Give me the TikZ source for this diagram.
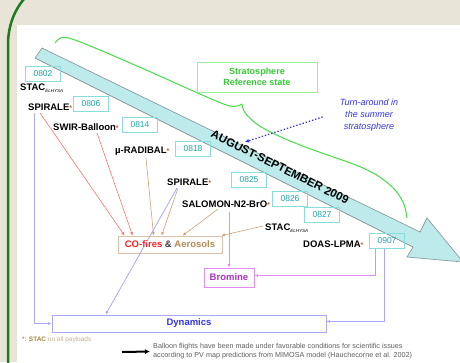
\documentclass[tikz,border=0pt]{standalone}
\usepackage{fontspec}
\setsansfont{Liberation Sans}
\usetikzlibrary{arrows.meta}

\definecolor{beige}{HTML}{E9E4D8}
\definecolor{framegreen}{HTML}{1E7B1E}
\definecolor{bandfill}{HTML}{BDEBEB}
\definecolor{bandline}{HTML}{8A9A9A}
\definecolor{bracegreen}{HTML}{44DD44}
\definecolor{stratline}{HTML}{99EE99}
\definecolor{strattext}{HTML}{33CC33}
\definecolor{codetext}{HTML}{1BA5A8}
\definecolor{codeline}{HTML}{88DDDD}
\definecolor{redline}{HTML}{FF7070}
\definecolor{redtext}{HTML}{FF2020}
\definecolor{tanline}{HTML}{C9A27A}
\definecolor{tantext}{HTML}{B58A55}
\definecolor{tanbox}{HTML}{DDC0A8}
\definecolor{purpline}{HTML}{E08CF0}
\definecolor{purptext}{HTML}{B030C8}
\definecolor{blueline}{HTML}{A8A8FF}
\definecolor{bluetext}{HTML}{3333EE}
\definecolor{asterisk}{HTML}{C05A30}
\definecolor{notetan}{HTML}{A88A40}
\definecolor{notelight}{HTML}{C8B090}
\definecolor{legendgray}{HTML}{606060}

\newcommand{\pstar}{\textcolor{asterisk}{\fontsize{7}{7}\selectfont*}}
\newcommand{\elhysa}{\raisebox{-2.5pt}{\fontsize{4.5}{5}\selectfont\mdseries\itshape ELHYSA}}

\begin{document}
\begin{tikzpicture}[x=1pt,y=-1pt,font=\sffamily,
	payload/.style={inner sep=0pt,anchor=base west,font=\sffamily\bfseries\fontsize{9.5}{10}\selectfont},
	flight/.style={draw=codeline,text=codetext,line width=0.8pt,minimum width=35pt,minimum height=15pt,inner sep=0pt,font=\sffamily\fontsize{8.5}{9}\selectfont},
	topic/.style={line width=0.8pt,inner sep=0pt,font=\sffamily\bfseries\fontsize{9.5}{10}\selectfont},
	tip/.style={-{Latex[length=3.5pt,width=3pt]}},
	redlink/.style={tip,draw=redline,line width=0.6pt},
	tanlink/.style={tip,draw=tanline,line width=0.6pt},
	purplink/.style={tip,draw=purpline,line width=0.8pt},
	bluelink/.style={tip,draw=blueline,line width=0.8pt}]
		\useasboundingbox (0,0) rectangle (460,362);
		\clip (0,0) rectangle (460,362);
		%%% background
		\fill[beige] (0,0) rectangle (460,362);
		\fill[white] (17,25) rectangle (460,362);
		\draw[framegreen,line width=2.5pt] (24,-1) .. controls (13,12) and (8,28) .. (8,45) -- (8,363);
		%%% time arrow
		\draw[bandline,fill=bandfill,line width=0.7pt] (42,48) -- (420,232) -- (427,218) -- (463,262) -- (407,257) -- (413,247) -- (35,58) -- cycle;
		\node[rotate=-26.5,font=\sffamily\bfseries\fontsize{11.5}{12}\selectfont] (period) at (280,167) {AUGUST-SEPTEMBER 2009};
		%%% stratosphere brace
		\draw[bracegreen,line width=1pt] plot[smooth,tension=0.6] coordinates {(55,43) (62,37.5) (75,40) (107,53) (153,73) (200,94) (230,106) (242,104)};
		\draw[bracegreen,line width=1pt] plot[smooth,tension=0.6] coordinates {(242,104) (246,114) (263,128) (300,145) (363,168) (390,185) (403,202) (407,218)};
		\node[draw=stratline,text=strattext,line width=0.8pt,minimum width=120pt,minimum height=30pt,align=center,font=\sffamily\bfseries\fontsize{9}{11}\selectfont] (strat) at (257,77) {Stratosphere\\Reference state};
		\node[text=bluetext,inner sep=0pt,align=center,font=\sffamily\itshape\fontsize{9}{12}\selectfont] (turn) at (369,115) {Turn-around in\\the summer\\stratosphere};
		\coordinate (turnpt) at (245,142);
		\draw[bluetext,line width=1.3pt,dotted,-{Latex[length=4pt,width=4pt]}] ([xshift=-17pt,yshift=-2pt]turn.west) -- (turnpt);
		%%% payloads
		\node[payload] (stacA) at (20,90) {STAC\elhysa};
		\node[payload] (spiraleA) at (28,110) {SPIRALE\pstar};
		\node[payload] (swir) at (53,130) {SWIR-Balloon\pstar};
		\node[payload] (radibal) at (115,153) {µ-RADIBAL\pstar};
		\node[payload] (spiraleB) at (167,185) {SPIRALE\pstar};
		\node[payload] (salomon) at (182,207) {SALOMON-N2-BrO\pstar};
		\node[payload] (stacB) at (265,230) {STAC\elhysa};
		\node[payload] (doas) at (303,247) {DOAS-LPMA\pstar};
		%%% flight numbers
		\node[flight] (f0802) at (43,74) {0802};
		\node[flight] (f0806) at (91,104) {0806};
		\node[flight] (f0814) at (140,125) {0814};
		\node[flight] (f0818) at (193,149) {0818};
		\node[flight] (f0825) at (249,180) {0825};
		\node[flight] (f0826) at (290,199) {0826};
		\node[flight] (f0827) at (322,215) {0827};
		\node[flight] (f0907) at (387,241) {0907};
		%%% topics
		\node[topic,draw=tanbox,minimum width=104pt,minimum height=17pt] (fires) at (170,244.5) {\textcolor{redtext}{CO-fires} \textcolor{black!75}{\&} \textcolor{tantext}{Aerosols}};
		\node[topic,draw=purpline,text=purptext,minimum width=50pt,minimum height=19pt] (bromine) at (229,277.5) {Bromine};
		\node[topic,draw=blueline,text=bluetext,minimum width=274pt,minimum height=17pt] (dyn) at (189,323.5) {Dynamics};
		%%% links
		\draw[bluelink] ([xshift=6pt,yshift=-3pt]spiraleA.base west) |- (dyn.west);
		\draw[redlink] ([xshift=12pt,yshift=-3pt]spiraleA.base west) -- ([xshift=7pt]fires.north west);
		\draw[redlink] ([xshift=44pt,yshift=-3pt]swir.base west) -- ([xshift=15pt]fires.north west);
		\draw[tanlink] ([xshift=31pt,yshift=-5pt]radibal.base west) -- ([xshift=36pt]fires.north west);
		\draw[tanlink] ([xshift=11pt,yshift=-3pt]spiraleB.base west) -- ([xshift=44pt]fires.north west);
		\draw[tanlink] ([xshift=36pt,yshift=-2pt]salomon.base west) -- ([xshift=65pt]fires.north west);
		\draw[tanlink] ([xshift=-2pt,yshift=4pt]stacB.base west) -- ([xshift=-1pt]fires.north east);
		\draw[bluelink] ([xshift=10pt,yshift=-3pt]spiraleB.base west) -- ([xshift=54pt]dyn.north west);
		\draw[purplink] ([xshift=47pt,yshift=-5pt]salomon.base west) -- (bromine.north);
		\draw[purplink] ([xshift=-12pt]f0907.south) |- ([yshift=2pt]bromine.east);
		\draw[bluelink] ([xshift=-3pt]f0907.south) |- ([yshift=2pt]dyn.east);
		%%% notes
		\node[inner sep=0pt,anchor=base west,font=\sffamily\fontsize{6.5}{7}\selectfont] (note) at (22,341.5) {\textcolor{asterisk}{*:} \textcolor{notetan}{\bfseries STAC} \textcolor{notelight}{on all payloads}};
		\node[inner sep=0pt,anchor=west,align=left,text=legendgray,font=\sffamily\fontsize{7.2}{9}\selectfont] (legend) at (153,351.5) {Balloon flights have been made under favorable conditions for scientific issues\\according to PV map predictions from MIMOSA model (Hauchecorne et al. 2002)};
		\coordinate (legendtail) at (122,352);
		\draw[line width=2pt,-{Latex[length=5pt,width=5pt]}] (legendtail) -- ([xshift=-3pt]legend.west);
	\end{tikzpicture}
\end{document}
